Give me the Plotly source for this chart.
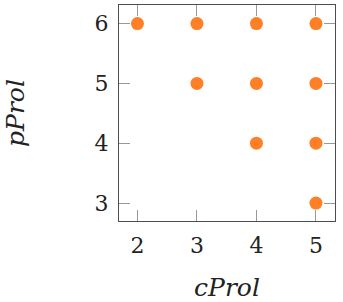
import plotly.graph_objects as go

c_prol = [2, 3, 4, 5, 3, 4, 5, 4, 5, 5]
p_prol = [6, 6, 6, 6, 5, 5, 5, 4, 4, 3]
x_ticks = [2, 3, 4, 5]
y_ticks = [3, 4, 5, 6]

SERIF = "DejaVu Serif"
TXT = "#222222"

fig = go.Figure()
fig.add_trace(go.Scatter(
    x=c_prol, y=p_prol, mode="markers",
    marker=dict(color="#FF7F27", size=13, line=dict(width=0)),
    showlegend=False,
))

axis_common = dict(
    showline=True, linecolor="#4d4d4d", linewidth=1.3, mirror="ticks",
    ticks="inside", ticklen=11, tickwidth=1, tickcolor="#999999",
    showgrid=False, zeroline=False,
    tickfont=dict(family=SERIF, size=22, color=TXT),
)

fig.update_xaxes(range=[1.69, 5.32], tickvals=x_ticks, ticklabelstandoff=4,
                 title=dict(text="<i>cProl</i>", standoff=22,
                            font=dict(family=SERIF, size=25, color=TXT)),
                 **axis_common)
fig.update_yaxes(range=[2.70, 6.31], tickvals=y_ticks, ticklabelstandoff=5,
                 title=dict(text="<i>pProl</i>", standoff=62,
                            font=dict(family=SERIF, size=25, color=TXT)),
                 **axis_common)

fig.update_layout(
    width=343, height=302,
    margin=dict(l=119, r=8, t=5, b=81),
    paper_bgcolor="white", plot_bgcolor="white",
    font=dict(family=SERIF),
)

fig.write_html("out.html")
